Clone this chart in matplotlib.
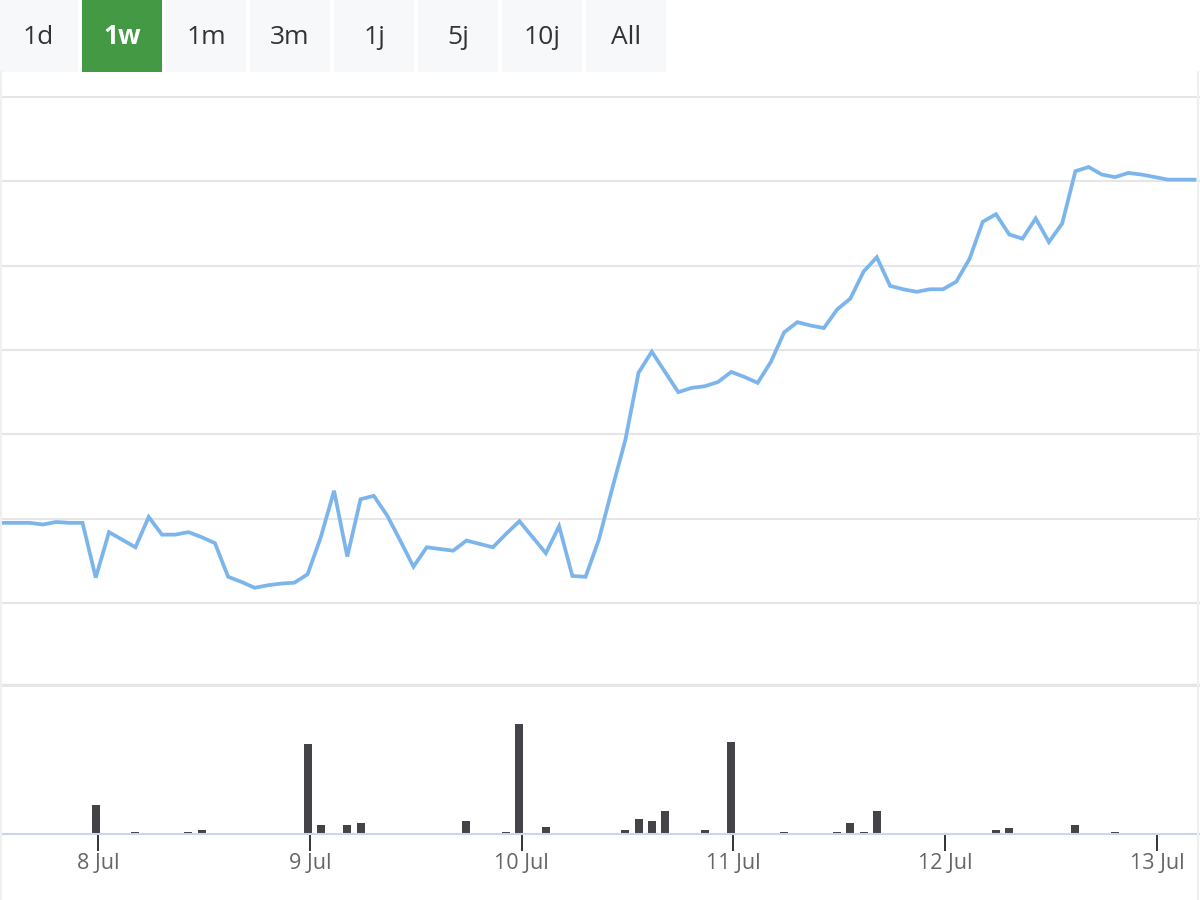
import matplotlib
matplotlib.use("Agg")
import matplotlib.pyplot as plt
import matplotlib.dates as mdates
from matplotlib.patches import Rectangle
import pandas as pd

plt.rcParams['font.family'] = ['Open Sans', 'DejaVu Sans']

# Kursdaten (alle 90 Minuten)
zeiten = pd.date_range("2024-07-07 13:15", periods=91, freq="90min")
kurs = [30.95, 30.95, 30.95, 30.93, 30.96, 30.95, 30.95, 30.30, 30.84, 30.75,
        30.66, 31.02, 30.81, 30.81, 30.84, 30.78, 30.71, 30.31, 30.25, 30.18,
        30.21, 30.23, 30.24, 30.34, 30.78, 31.33, 30.55, 31.23, 31.27, 31.04,
        30.74, 30.43, 30.66, 30.64, 30.62, 30.74, 30.70, 30.66, 30.82, 30.97,
        30.78, 30.59, 30.91, 30.32, 30.31, 30.75, 31.35, 31.93, 32.73, 32.98,
        32.74, 32.50, 32.55, 32.57, 32.62, 32.74, 32.68, 32.61, 32.86, 33.21,
        33.33, 33.29, 33.26, 33.48, 33.61, 33.93, 34.10, 33.76, 33.72, 33.69,
        33.72, 33.72, 33.81, 34.08, 34.52, 34.61, 34.37, 34.32, 34.56, 34.28,
        34.50, 35.12, 35.17, 35.08, 35.05, 35.10, 35.08, 35.05, 35.02, 35.02,
        35.02]

# Volumen (nur Zeitpunkte mit Umsatz)
vol_idx = [7, 10, 14, 15, 23, 24, 26, 27, 35, 38, 39, 41, 47, 48, 49, 50,
           53, 55, 59, 63, 64, 65, 66, 75, 76, 81, 84]
vol_werte = [29, 2, 2, 4, 90, 9, 9, 11, 13, 2, 110, 7, 4, 15, 13, 23,
             4, 92, 2, 2, 11, 2, 23, 4, 6, 9, 2]

zeitraeume = ["1d", "1w", "1m", "3m", "1j", "5j", "10j", "All"]
aktiv = "1w"

fig = plt.figure(figsize=(12, 9), dpi=100)
fig.patch.set_facecolor("white")

# Buttonleiste
ax_btn = fig.add_axes([0, 1 - 72 / 900, 1, 72 / 900])
ax_btn.set_xlim(0, 1200)
ax_btn.set_ylim(72, 0)
ax_btn.axis("off")
for i, z in enumerate(zeitraeume):
    x0 = -2 + 84 * i
    ist_aktiv = z == aktiv
    ax_btn.add_patch(Rectangle((x0, 0), 80, 72,
                               color="#439944" if ist_aktiv else "#f7f8fa", lw=0))
    ax_btn.text(x0 + 40, 37, z, ha="center", va="center", fontsize=19,
                color="white" if ist_aktiv else "#333333",
                weight="bold" if ist_aktiv else "normal")

xmin = mdates.date2num(pd.Timestamp("2024-07-07 12:54"))
xmax = mdates.date2num(pd.Timestamp("2024-07-13 04:52"))

# Kurschart
ax = fig.add_axes([0, 1 - 685 / 900, 1, (685 - 97) / 900])
ax.plot(zeiten, kurs, color="#7cb5ec", lw=2.7, solid_joinstyle="miter")
for g in range(30, 37):
    ax.axhline(g, color="#e6e6e6", lw=1.5, zorder=0, clip_on=False)
ax.set_xlim(xmin, xmax)
ax.set_ylim(29.027, 36.0)
ax.set_xticks([])
ax.set_yticks([])
for s in ["top", "left", "right"]:
    ax.spines[s].set_visible(False)
ax.spines["bottom"].set_color("#e6e6e6")
ax.spines["bottom"].set_linewidth(2.5)

# Volumen
ax_v = fig.add_axes([0, 1 - 834 / 900, 1, (834 - 687) / 900])
ax_v.bar([zeiten[i] for i in vol_idx], vol_werte, width=0.0378,
         color="#434348", align="center")
ax_v.set_xlim(xmin, xmax)
ax_v.set_ylim(0, 147)
ax_v.set_yticks([])
for s in ["top", "left", "right"]:
    ax_v.spines[s].set_visible(False)
ax_v.spines["bottom"].set_color("#ccd6eb")
ax_v.spines["bottom"].set_linewidth(1.5)
ax_v.xaxis.set_major_locator(mdates.DayLocator())
ax_v.xaxis.set_major_formatter(
    plt.FuncFormatter(lambda x, p: f"{mdates.num2date(x).day} {mdates.num2date(x):%b}"))
ax_v.tick_params(axis="x", length=12, width=1.4, color="#333333",
                 labelsize=15.5, labelcolor="#666666", pad=2)

# dezenter Rahmen
fig.add_artist(plt.Line2D([1 / 1200, 1 / 1200], [0, 1 - 72 / 900],
                          color="#f0f0f0", lw=1.5))
fig.add_artist(plt.Line2D([1198 / 1200, 1198 / 1200], [0, 1 - 72 / 900],
                          color="#f0f0f0", lw=1.5))

fig.savefig("out.png", dpi=100)
plt.close(fig)
